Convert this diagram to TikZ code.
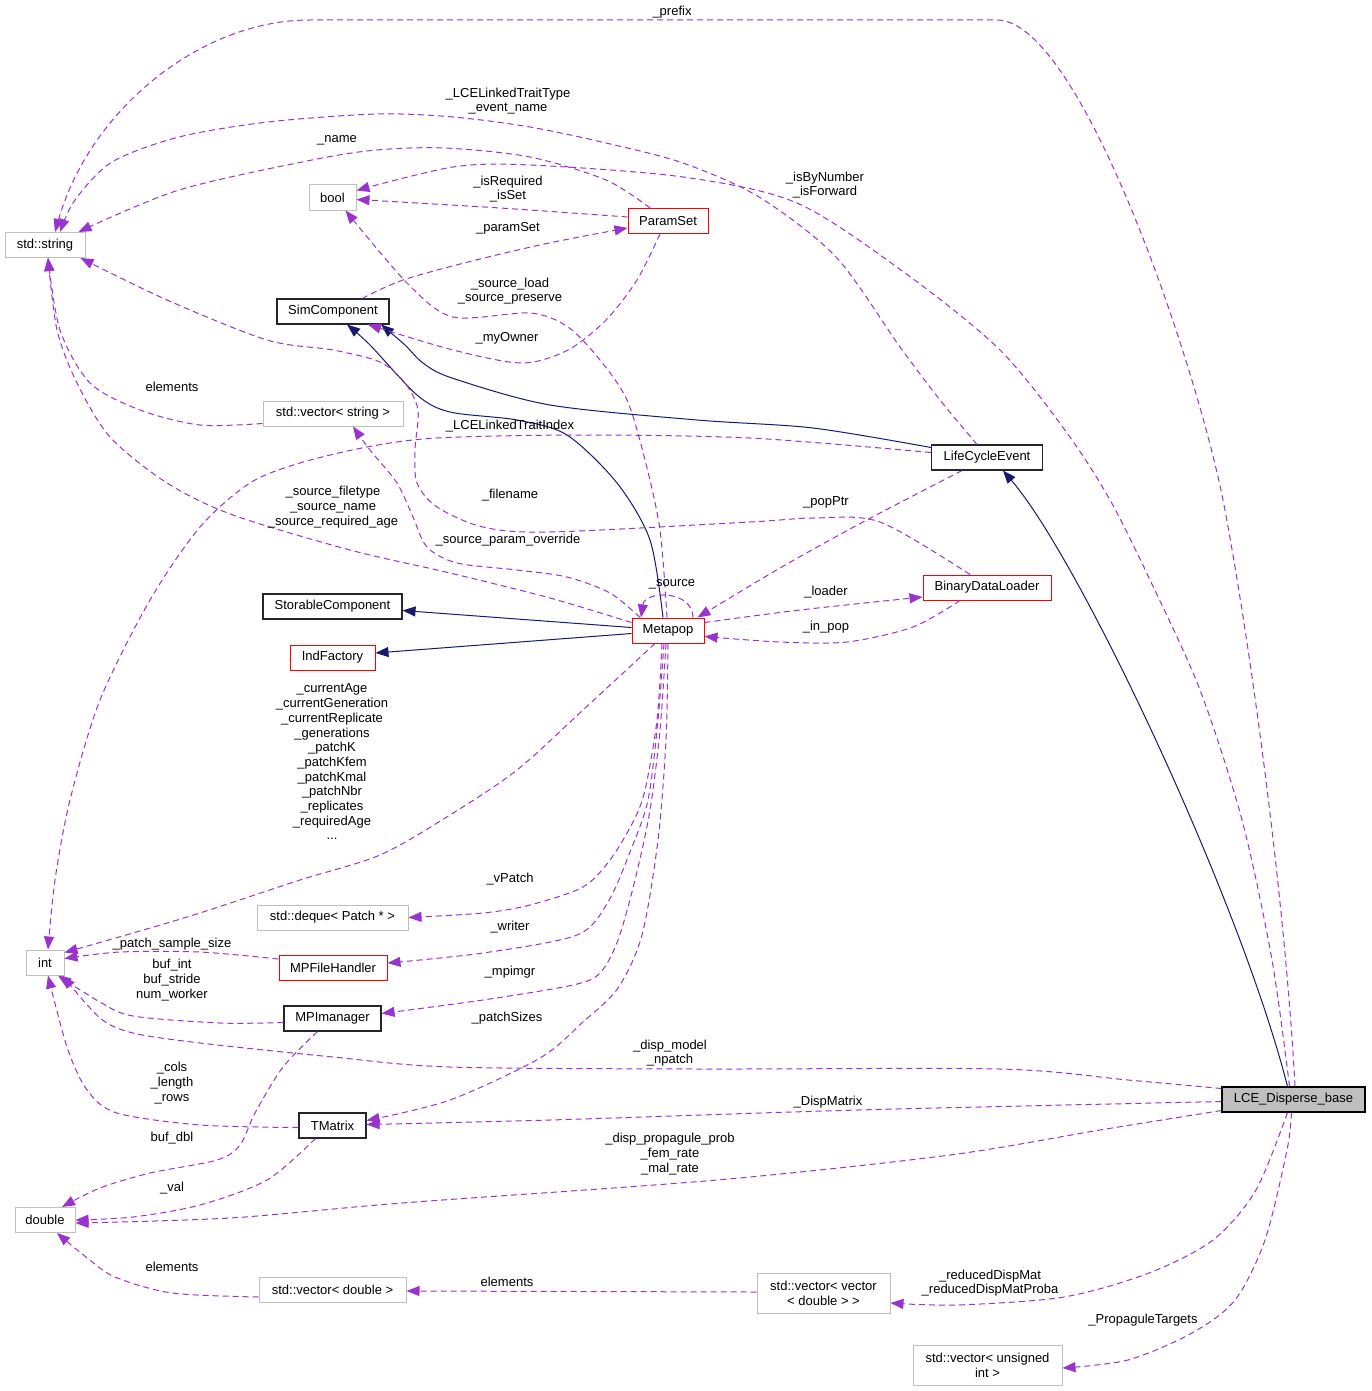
\documentclass[tikz,border=0pt]{standalone}
\usepackage{fontspec}
\setmainfont{Liberation Sans}
\usetikzlibrary{arrows.meta,calc}
\definecolor{purp}{HTML}{9A32CD}
\definecolor{navyc}{HTML}{191970}
\definecolor{grayb}{HTML}{BFBFBF}
\tikzset{
  box/.style={draw, line width=1pt, inner sep=0pt, align=center, minimum height=25pt, font=\fontsize{13}{15}\selectfont},
  extbox/.style={box, draw=grayb},
  clsbox/.style={box, draw=black!85, line width=1.1pt},
  redbox/.style={box, draw=red},
  mainbox/.style={box, draw=black, fill=grayb, line width=1.1pt},
  dep/.style={draw=purp, line width=1pt, dash pattern=on 6pt off 4pt, -{Triangle[length=13pt,width=10pt]}},
  inh/.style={draw=navyc, line width=1pt, -{Triangle[length=13pt,width=10pt]}},
  lbl/.style={align=center, inner sep=0pt, font=\fontsize{13}{14.7}\selectfont}
}
\begin{document}
\begin{tikzpicture}[x=1pt,y=-1pt]
\useasboundingbox[fill=white] (0,0) rectangle (1371,1391);
% nodes
\node[extbox, minimum width=80pt] (str) at (45,245) {std::string};
\node[extbox, minimum width=47pt] (boolN) at (332.5,197.5) {bool};
\node[redbox, minimum width=80pt] (paramset) at (668,221) {ParamSet};
\node[clsbox, minimum width=112pt] (simcomp) at (333,311.5) {SimComponent};
\node[extbox, minimum width=140pt] (vecstr) at (333,413.5) {std::vector< string >};
\node[clsbox, minimum width=111pt] (lce) at (987,457.5) {LifeCycleEvent};
\node[clsbox, minimum width=139pt] (storable) at (332.5,606.5) {StorableComponent};
\node[redbox, minimum width=85pt] (indf) at (332.5,657.5) {IndFactory};
\node[redbox, minimum width=72pt] (metapop) at (668,630.5) {Metapop};
\node[redbox, minimum width=128pt] (bdl) at (987,587.5) {BinaryDataLoader};
\node[extbox, minimum width=38pt] (int) at (45,962.5) {int};
\node[extbox, minimum width=151pt] (deque) at (332.5,917.5) {std::deque< Patch * >};
\node[redbox, minimum width=108pt] (mpfh) at (333,968) {MPFileHandler};
\node[clsbox, minimum width=97pt] (mpim) at (332.5,1018.5) {MPImanager};
\node[clsbox, minimum width=67pt] (tmatrix) at (332.5,1125.5) {TMatrix};
\node[extbox, minimum width=60pt] (dbl) at (45,1220) {double};
\node[extbox, minimum width=147pt] (vecdbl) at (332.5,1290) {std::vector< double >};
\node[extbox, minimum width=133pt, minimum height=40pt] (vecvec) at (823.5,1293) {std::vector< vector\\< double > >};
\node[mainbox, minimum width=143pt] (lcedisp) at (1293.5,1099.5) {LCE\_Disperse\_base};
\node[extbox, minimum width=149pt, minimum height=40pt] (vecuint) at (987.5,1365) {std::vector< unsigned\\int >};

% inheritance
\draw[inh] ([xshift=-6pt]lcedisp.north) .. controls (1240,900) and (1080,560) .. ([xshift=16pt]lce.south);
\draw[inh] plot[smooth] coordinates {([xshift=-5pt]metapop.north) (650,540) (617,483) (567,435) (517,420) (450,412) (417,395) (370,345) ([xshift=14pt]simcomp.south)};
\draw[inh] plot[smooth] coordinates {([yshift=10pt]lce.west) (813,428) (697,420) (550,405) (452,378) (423,363) (405,345) ([xshift=48pt]simcomp.south)};
\draw[inh] ([yshift=3pt]metapop.west) -- ([yshift=-4pt]storable.east);
\draw[inh] ([yshift=-3pt]metapop.west) -- ([yshift=4.5pt]indf.east);

% dependencies
\draw[dep] ([xshift=1.5pt]lcedisp.north) .. controls (1285,900) and (1250,640) .. (1223,500) .. controls (1195,360) and (1080,20) .. (997,20) -- (310,20) .. controls (200,20) and (90,110) .. ([xshift=10pt]str.north);
\draw[dep] plot[smooth] coordinates {([xshift=-10pt]lce.north) (940,400) (900,347) (836,257) (759,197) (683,163) (606,143) (530,127) (453,117) (377,114) (268,122) (179,137) (112,162) (75,200) ([xshift=15pt]str.north)};
\draw[dep] plot[smooth] coordinates {([xshift=-18pt]paramset.north) (606,180) (530,157) (445,148) (377,150) (312,160) (179,190) ([xshift=-7pt]str.north east)};
\draw[dep] plot[smooth] coordinates {([xshift=-4pt]lcedisp.north) (1272,960) (1242,820) (1200,690) (1150,580) (1110,500) (1067,433) (1000,350) (905,273) (797,203) (683,177) (530,165) (453,167) ([yshift=7pt]boolN.east)};
\draw[dep] plot[smooth] coordinates {([yshift=4pt]paramset.west) (500,208) ([yshift=-2pt]boolN.east)};
\draw[dep] plot[smooth] coordinates {([xshift=29pt]simcomp.north) (403,280) (472,261) (549,243) ([yshift=-7pt]paramset.west)};
\draw[dep] plot[smooth] coordinates {([xshift=-8pt]paramset.south) (637,280) (606,320) (568,350) (522,363) (453,350) ([xshift=35pt]simcomp.south)};
\draw[dep] plot[smooth] coordinates {([xshift=-1pt]metapop.north) (660,530) (645,460) (627,400) (600,360) (568,327) (530,313) (453,317) (407,283) ([xshift=13pt]boolN.south)};
\draw[dep] plot[smooth] coordinates {([xshift=-17pt]bdl.north) (880,522) (813,518) (750,522) (550,532) (483,527) (437,507) (417,483) (415,450) (418,410) (405,383) (380,362) (333,350) (267,340) (167,300) ([xshift=-5pt]str.south east)};
\draw[dep] plot[smooth] coordinates {([xshift=-25pt]lce.south) (863,522) (780,568) ([xshift=-7pt]metapop.north east)};
\draw[dep] plot[smooth] coordinates {([yshift=8pt]metapop.east) (800,610) ([yshift=-9.5pt]bdl.west)};
\draw[dep] plot[smooth] coordinates {([xshift=-27pt]bdl.south) (913,627) (847,642) (780,642) ([yshift=-6pt]metapop.east)};
\draw[dep] ([xshift=25pt]metapop.north) .. controls (693,590) and (645,590) .. ([xshift=-27pt]metapop.north);
\draw[dep] plot[smooth] coordinates {([yshift=8pt]metapop.west) (550,598) (450,573) (350,550) (233,515) (167,483) (110,437) (77,383) (57,330) ([xshift=3pt]str.south)};
\draw[dep] plot[smooth] coordinates {([xshift=-28pt]metapop.north) (610,593) (567,577) (517,570) (457,563) (427,547) (413,517) (397,483) (370,450) ([xshift=20pt]vecstr.south)};
\draw[dep] plot[smooth] coordinates {([yshift=5pt]lce.west) (750,438) (580,435) (437,438) (367,447) (300,463) (250,483) (200,527) (150,600) (100,700) (70,800) (55,880) ([xshift=3pt]int.north)};
\draw[dep] plot[smooth] coordinates {([xshift=-13pt]metapop.south) (583,710) (517,770) (450,815) (380,855) (300,880) (200,913) (133,933) ([yshift=10pt]int.east)};
\draw[dep] plot[smooth] coordinates {([xshift=-6pt]metapop.south) (657,720) (645,790) (633,822) (610,860) (583,887) (530,905) (483,913) (deque.east)};
\draw[dep] plot[smooth] coordinates {([xshift=-4pt]metapop.south) (658,720) (648,800) (630,852) (608,902) (577,935) (483,953) ([yshift=5pt]mpfh.east)};
\draw[dep] plot[smooth] coordinates {([xshift=-2pt]metapop.south) (660,730) (650,810) (635,880) (618,940) (600,973) (573,985) (483,1000) ([yshift=5pt]mpim.east)};
\draw[dep] plot[smooth] coordinates {([xshift=0pt]metapop.south) (666,740) (658,840) (642,935) (618,988) (583,1022) (540,1058) (450,1100) ([yshift=5pt]tmatrix.east)};
\draw[dep] plot[smooth] coordinates {([yshift=9pt]mpfh.west) (200,952) (120,952) ([yshift=4pt]int.east)};
\draw[dep] plot[smooth] coordinates {([yshift=-4pt]mpim.west) (220,1023) (133,1016) (100,1002) ([xshift=13pt]int.south)};
\draw[dep] plot[smooth] coordinates {([yshift=-2pt]tmatrix.west) (200,1125) (117,1113) (87,1090) (67,1047) ([xshift=3pt]int.south)};
\draw[dep] plot[smooth] coordinates {([yshift=11pt]lcedisp.west) (1128,1080) (1000,1069) (700,1069) (450,1067) (333,1057) (200,1043) (133,1033) (100,1018) ([xshift=-2pt]int.south east)};
\draw[dep] plot[smooth] coordinates {([yshift=-2pt]lcedisp.west) (858,1110) (550,1120) ([yshift=1pt]tmatrix.east)};
\draw[dep] plot[smooth] coordinates {([yshift=-11pt]lcedisp.west) (1100,1130) (950,1155) (717,1180) (402,1203) (230,1218) ([yshift=-3pt]dbl.east)};
\draw[dep] plot[smooth] coordinates {([xshift=-17pt]tmatrix.south) (267,1180) (200,1205) (133,1217) (dbl.east)};
\draw[dep] plot[smooth] coordinates {([xshift=-15pt]mpim.south) (283,1067) (255,1113) (240,1145) (217,1160) (150,1173) (100,1188) ([xshift=17pt]dbl.north)};
\draw[dep] plot[smooth] coordinates {([yshift=-7pt]vecdbl.west) (172,1293) (115,1277) (86,1257) ([xshift=12pt]dbl.south)};
\draw[dep] ([yshift=1pt]vecvec.west) -- ([yshift=-1pt]vecdbl.east);
\draw[dep] plot[smooth] coordinates {([xshift=-6pt]lcedisp.south) (1256,1190) (1213,1240) (1149,1273) (1064,1297) (957,1305) ([yshift=-10pt]vecvec.east)};
\draw[dep] plot[smooth] coordinates {([xshift=-2pt]lcedisp.south) (1287,1150) (1265,1240) (1235,1300) (1192,1333) (1128,1360) ([yshift=-3pt]vecuint.east)};
\draw[dep] plot[smooth] coordinates {([yshift=-10pt]vecstr.west) (200,425) (140,410) (90,383) (60,330) ([xshift=3pt]str.south)};

% labels
\node[lbl] (l1) at (672,12) {\_prefix};
\node[lbl] (l2) at (508,101) {\_LCELinkedTraitType\\\_event\_name};
\node[lbl] (l3) at (337,140) {\_name};
\node[lbl] (l4) at (508,189) {\_isRequired\\\_isSet};
\node[lbl] (l5) at (825,185) {\_isByNumber\\\_isForward};
\node[lbl] (l6) at (508,228) {\_paramSet};
\node[lbl] (l7) at (510,291) {\_source\_load\\\_source\_preserve};
\node[lbl] (l8) at (507,338) {\_myOwner};
\node[lbl] (l9) at (172,387) {elements};
\node[lbl] (l10) at (510,426) {\_LCELinkedTraitIndex};
\node[lbl] (l11) at (510,495) {\_filename};
\node[lbl] (l12) at (826,502) {\_popPtr};
\node[lbl] (l13) at (333,507) {\_source\_filetype\\\_source\_name\\\_source\_required\_age};
\node[lbl] (l14) at (508,540) {\_source\_param\_override};
\node[lbl] (l15) at (672,584) {\_source};
\node[lbl] (l16) at (826,592) {\_loader};
\node[lbl] (l17) at (826,627) {\_in\_pop};
\node[lbl] (l18) at (332,762) {\_currentAge\\\_currentGeneration\\\_currentReplicate\\\_generations\\\_patchK\\\_patchKfem\\\_patchKmal\\\_patchNbr\\\_replicates\\\_requiredAge\\...};
\node[lbl] (l19) at (510,879) {\_vPatch};
\node[lbl] (l20) at (510,927) {\_writer};
\node[lbl] (l21) at (172,944) {\_patch\_sample\_size};
\node[lbl] (l22) at (172,980) {buf\_int\\buf\_stride\\num\_worker};
\node[lbl] (l23) at (510,972) {\_mpimgr};
\node[lbl] (l24) at (507,1018) {\_patchSizes};
\node[lbl] (l25) at (670,1053) {\_disp\_model\\\_npatch};
\node[lbl] (l26) at (172,1083) {\_cols\\\_length\\\_rows};
\node[lbl] (l27) at (828,1102) {\_DispMatrix};
\node[lbl] (l28) at (172,1138) {buf\_dbl};
\node[lbl] (l29) at (670,1154) {\_disp\_propagule\_prob\\\_fem\_rate\\\_mal\_rate};
\node[lbl] (l30) at (172,1188) {\_val};
\node[lbl] (l31) at (172,1267) {elements};
\node[lbl] (l32) at (507,1282) {elements};
\node[lbl] (l33) at (990,1283) {\_reducedDispMat\\\_reducedDispMatProba};
\node[lbl] (l34) at (1143,1320) {\_PropaguleTargets};
\end{tikzpicture}
\end{document}
